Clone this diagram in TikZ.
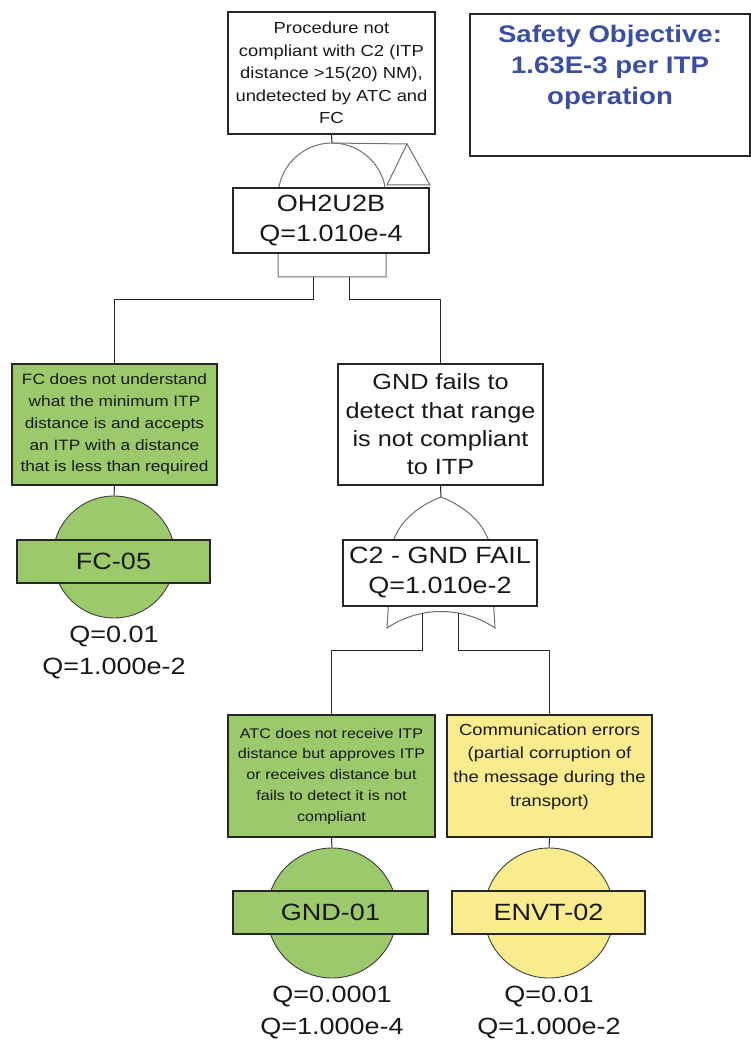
\documentclass[tikz,border=0pt]{standalone}
\usepackage{fontspec}
\setmainfont{Liberation Sans}[FakeStretch=1.15]
\usepackage{tikz}
\usetikzlibrary{
    positioning,
    calc
}
\definecolor{evgreen}{HTML}{9BC96B}
\definecolor{evyellow}{HTML}{F8EC8E}
\definecolor{gategray}{HTML}{6E6E6E}
\definecolor{objblue}{HTML}{3B4FA0}
\tikzset{
    every node/.style={font=\fontsize{23.5}{30}\selectfont, text=black!90},
    descbox/.style={draw=black!85, line width=1.1pt, fill=white, align=center, inner sep=0pt},
    idbox/.style={draw=black!85, line width=1.1pt, align=center, inner sep=0pt, minimum height=43pt},
    event/.style={circle, draw=black!75, line width=0.9pt, inner sep=0pt},
    gate/.style={draw=gategray, line width=1pt, fill=white},
    wire/.style={draw=black!85, line width=1pt},
    prob/.style={align=center, inner sep=0pt, font=\fontsize{23.5}{32}\selectfont},
}

\begin{document}
\begin{tikzpicture}[x=1pt, y=-1pt]
    \useasboundingbox (0,0) rectangle (751,1040);

    \node[descbox, minimum width=207pt, minimum height=122pt, font=\fontsize{16}{22.5}\selectfont] (top) at (331.5,73)
        {Procedure not\\compliant with C2 (ITP\\distance >15(20) NM),\\undetected by ATC and\\FC};
    \node[draw=black!85, line width=1.1pt, minimum width=280pt, minimum height=142pt] (obj) at (610,85) {};
    \node[anchor=north, align=center, inner sep=0pt, text=objblue, font=\bfseries\fontsize{24}{31}\selectfont] (objtext)
        at ([yshift=-11pt]obj.north) {Safety Objective:\\1.63E-3 per ITP\\operation};

    \coordinate (andtop) at (332,143);
    \coordinate (trf) at (407,144);
    \coordinate (andl) at (313,277);
    \coordinate (andr) at (349,277);
    \draw[wire] (top.south) -- (andtop);
    \draw[gate] (278,277) -- (278,197) arc[start angle=180, end angle=0, radius=54pt] -- (386,277) -- cycle;
    \draw[gate] (andtop) -- (trf);
    \draw[gate] (trf) -- ++(23,41) -- ++(-43,0) -- cycle;
    \node[descbox, minimum width=196pt, minimum height=65pt] (oh) at (331,220.5) {OH2U2B\\Q=1.010e-4};

    \node[descbox, fill=evgreen, minimum width=205pt, minimum height=121pt, font=\fontsize{15}{21.7}\selectfont] (fc) at (114.5,424.5)
        {FC does not understand\\what the minimum ITP\\distance is and accepts\\an ITP with a distance\\that is less than required};
    \node[descbox, minimum width=205pt, minimum height=121pt, font=\fontsize{22}{28.3}\selectfont] (gnd) at (440.5,424.5)
        {GND fails to\\detect that range\\is not compliant\\to ITP};
    \draw[wire] (andl) -- ++(0,22) -| (fc.north);
    \draw[wire] (andr) -- ++(0,22) -| (gnd.north);

    \node[event, fill=evgreen, minimum size=122pt] (fcev) at (114,557) {};
    \node[idbox, fill=evgreen, minimum width=193pt] (fcid) at (113.5,561.5) {FC-05};
    \node[prob] (fcq) at (114,653) {Q=0.01\\Q=1.000e-2};
    \draw[wire] (fc.south) -- (fcev.north);

    \coordinate (ortop) at (441,497);
    \coordinate (orl) at (422,613);
    \coordinate (orr) at (458,613);
    \draw[wire] (gnd.south) -- (ortop);
    \draw[gate] (ortop) .. controls (418,506) and (398,522) .. (392,545) -- (387,628)
        .. controls (420,606) and (462,606) .. (495,628) -- (490,545)
        .. controls (484,522) and (464,506) .. (ortop);
    \node[descbox, minimum width=194pt, minimum height=66pt] (c2) at (440,573) {C2 - GND FAIL\\Q=1.010e-2};

    \node[descbox, fill=evgreen, minimum width=207pt, minimum height=122pt, font=\fontsize{14}{20.7}\selectfont] (atc) at (331.5,776)
        {ATC does not receive ITP\\distance but approves ITP\\or receives distance but\\fails to detect it is not\\compliant};
    \node[descbox, fill=evyellow, minimum width=205pt, minimum height=122pt, text depth=22pt, font=\fontsize{16}{23.7}\selectfont] (com) at (549.5,776)
        {Communication errors\\(partial corruption of\\the message during the\\transport)};
    \draw[wire] (orl) -- ++(0,37) -| (atc.north);
    \draw[wire] (orr) -- ++(0,37) -| (com.north);

    \node[event, fill=evgreen, minimum size=130pt] (gndev) at (332,913) {};
    \node[idbox, fill=evgreen, minimum width=195pt] (gndid) at (330.5,912.5) {GND-01};
    \node[prob] (gndq) at (332,1012.5) {Q=0.0001\\Q=1.000e-4};
    \draw[wire] (atc.south) -- (gndev.north);

    \node[event, fill=evyellow, minimum size=130pt] (envev) at (549,913) {};
    \node[idbox, fill=evyellow, minimum width=193pt] (envid) at (548.5,912.5) {ENVT-02};
    \node[prob] (envq) at (549,1012.5) {Q=0.01\\Q=1.000e-2};
    \draw[wire] (com.south) -- (envev.north);
\end{tikzpicture}
\end{document}
